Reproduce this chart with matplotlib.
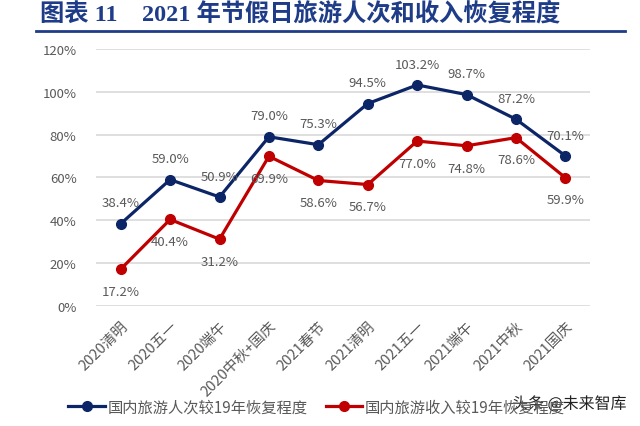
import matplotlib
matplotlib.use("Agg")
import matplotlib.pyplot as plt
import matplotlib.patheffects as pe
from matplotlib.lines import Line2D

plt.rcParams['font.family'] = ['Noto Sans CJK SC', 'DejaVu Sans']

# 数据
categories = ['2020清明', '2020五一', '2020端午', '2020中秋+国庆', '2021春节',
              '2021清明', '2021五一', '2021端午', '2021中秋', '2021国庆']
visitors = [38.4, 59.0, 50.9, 79.0, 75.3, 94.5, 103.2, 98.7, 87.2, 70.1]
income = [17.2, 40.4, 31.2, 69.9, 58.6, 56.7, 77.0, 74.8, 78.6, 59.9]
yticks = [0, 20, 40, 60, 80, 100, 120]

BLUE = '#0b2566'
RED = '#c00000'
GRAY = '#595959'
TITLE = '#1f3c88'

fig = plt.figure(figsize=(6.4, 4.27), dpi=100)
ax = fig.add_axes([0.15, 0.281, 0.772, 0.602])

x = list(range(len(categories)))
ax.plot(x, visitors, color=BLUE, lw=2.3, marker='o', ms=7, zorder=3)
ax.plot(x, income, color=RED, lw=2.3, marker='o', ms=7, zorder=3)

for xi, v in zip(x, visitors):
    ax.annotate(f'{v:.1f}%', (xi, v), xytext=(0, 15), textcoords='offset points',
                ha='center', va='center', fontsize=9.5, color=GRAY)
for xi, v in zip(x, income):
    ax.annotate(f'{v:.1f}%', (xi, v), xytext=(0, -16), textcoords='offset points',
                ha='center', va='center', fontsize=9.5, color=GRAY)

ax.set_xlim(-0.5, len(categories) - 0.5)
ax.set_ylim(0, 120)
ax.set_yticks(yticks)
ax.set_yticklabels([f'{t}%' for t in yticks], fontsize=9.5, color=GRAY)
ax.set_xticks(x)
ax.set_xticklabels(categories, rotation=45, ha='right', rotation_mode='anchor',
                   fontsize=10.5, color=GRAY)
ax.tick_params(axis='x', length=0, pad=9)
ax.tick_params(axis='y', length=0, pad=14)
ax.grid(axis='y', color='#d9d9d9', lw=1.2)
ax.set_axisbelow(True)
for s in ax.spines.values():
    s.set_visible(False)

# 图例
handles = [Line2D([], [], color=BLUE, lw=2.3, marker='o', ms=7),
           Line2D([], [], color=RED, lw=2.3, marker='o', ms=7)]
fig.legend(handles, ['国内旅游人次较19年恢复程度', '国内旅游收入较19年恢复程度'],
           loc='center', bbox_to_anchor=(0.4945, 0.0445), ncol=2, frameon=False,
           fontsize=11, handlelength=2.4, columnspacing=1.2, handletextpad=0.15,
           labelcolor=GRAY, borderpad=0)

# 标题
fig.text(0.0625, 0.969, '图表 11    2021 年节假日旅游人次和收入恢复程度', fontsize=17.5,
         fontweight='bold', color=TITLE, va='center', ha='left',
         family=['Liberation Serif', 'Noto Sans CJK SC'])
fig.add_artist(Line2D([0.056, 0.977], [0.925, 0.925], color=TITLE, lw=2))

# 水印
fig.text(0.8, 0.051, '头条 @未来智库', fontsize=11.5, color='#222222', va='center',
         path_effects=[pe.withStroke(linewidth=3, foreground='white')])

fig.savefig('out.png', dpi=100)
